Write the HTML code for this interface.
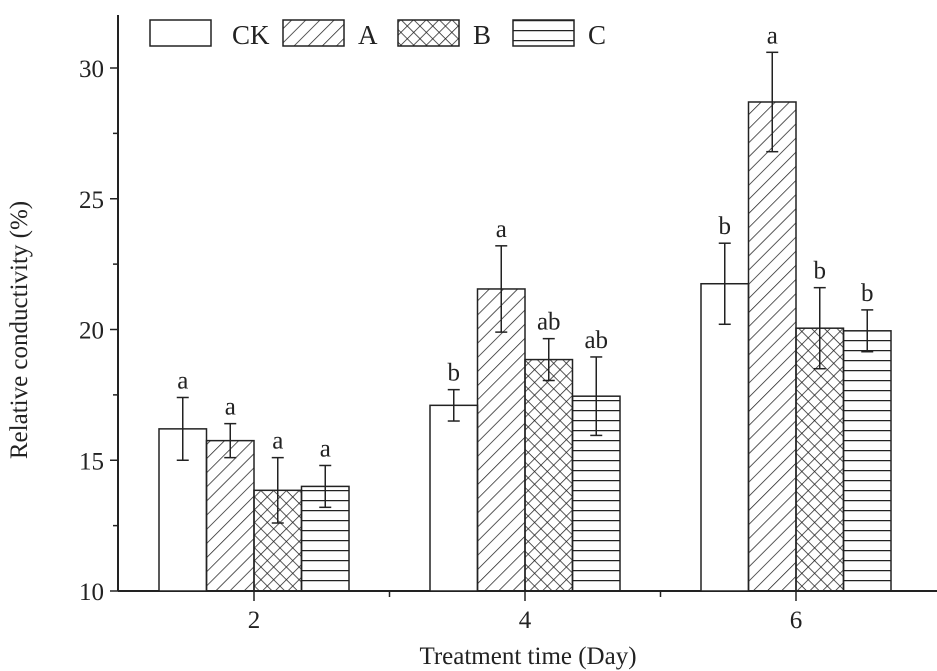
<!DOCTYPE html>
<html><head><meta charset="utf-8"><style>
body{margin:0;background:#fff}
svg{display:block;font-family:"Liberation Serif",serif}
</style></head><body>
<svg id="chart" width="937" height="671" viewBox="0 0 937 671" xmlns="http://www.w3.org/2000/svg">
<defs>
<pattern id="pA" patternUnits="userSpaceOnUse" width="10" height="10" patternTransform="rotate(45)"><line x1="0" y1="0" x2="0" y2="10" stroke="#222" stroke-width="1.5"/></pattern>
<pattern id="pB" patternUnits="userSpaceOnUse" width="9" height="9" patternTransform="rotate(45)"><line x1="0" y1="0" x2="0" y2="9" stroke="#222" stroke-width="1.5"/><line x1="0" y1="0" x2="9" y2="0" stroke="#222" stroke-width="1.5"/></pattern>
<pattern id="pC" patternUnits="userSpaceOnUse" width="10" height="10"><line x1="0" y1="0.5" x2="10" y2="0.5" stroke="#222" stroke-width="1.5"/></pattern>
</defs>
<g id="axes"></g><g id="bars"></g><g id="legend"></g>
</svg>
<script>
const days = ["2","4","6"];
const seriesNames = ["CK","A","B","C"];
const ckVals = [16.2, 17.1, 21.75];
const aVals = [15.75, 21.55, 28.7];
const bVals = [13.85, 18.85, 20.05];
const cVals = [14.0, 17.45, 19.95];
const ckErr = [1.2, 0.6, 1.55];
const aErr = [0.65, 1.65, 1.9];
const bErr = [1.25, 0.8, 1.55];
const cErr = [0.8, 1.5, 0.8];
const ckLetters = ["a","b","b"];
const aLetters = ["a","a","a"];
const bLetters = ["a","ab","b"];
const cLetters = ["a","ab","b"];
const yTicks = [10,15,20,25,30];

const NS="http://www.w3.org/2000/svg";
const svg=document.getElementById('chart');
const axes=document.getElementById('axes'), barsG=document.getElementById('bars'), leg=document.getElementById('legend');
const y0=591, pxPerUnit=26.15, yMin=10;
const yS=v=>y0-(v-yMin)*pxPerUnit;
const xS=i=>254+i*271;
const bw=47.5;
function mk(tag,attrs,parent,txt){const e=document.createElementNS(NS,tag);for(const k in attrs)e.setAttribute(k,attrs[k]);if(txt!==undefined)e.textContent=txt;parent.appendChild(e);return e;}

let e=mk('line',{x1:118,y1:15,x2:118,y2:591,stroke:'#222','stroke-width':2},axes);

e=mk('line',{x1:118,y1:591,x2:937,y2:591,stroke:'#222','stroke-width':2},axes);

yTicks.forEach(t=>{
  const y=yS(t);
  mk('line',{x1:110,y1:y,x2:118,y2:y,stroke:'#222','stroke-width':1.5},axes);
  const tx=mk('text',{x:104,y:y+9,'text-anchor':'end','font-size':25,fill:'#222'},axes,t);
  
  
});
for(let t=12.5;t<30;t+=5){const y=yS(t);mk('line',{x1:113,y1:y,x2:118,y2:y,stroke:'#222','stroke-width':1.5},axes);}
days.forEach((d,i)=>{
  const x=xS(i);
  mk('line',{x1:x,y1:591,x2:x,y2:601,stroke:'#222','stroke-width':1.5},axes);
  const tx=mk('text',{x:x,y:628,'text-anchor':'middle','font-size':25,fill:'#222'},axes,d);
  
  
});
[389.5,660.5].forEach(x=>mk('line',{x1:x,y1:591,x2:x,y2:597,stroke:'#222','stroke-width':1.5},axes));
e=mk('text',{x:528,y:664,'text-anchor':'middle','font-size':25,fill:'#222'},axes,'Treatment time (Day)');

e=mk('text',{x:0,y:0,'text-anchor':'middle','font-size':25,fill:'#222',transform:'translate(27,330) rotate(-90)'},axes,'Relative conductivity (%)');


const vals=[ckVals,aVals,bVals,cVals], errs=[ckErr,aErr,bErr,cErr], lets=[ckLetters,aLetters,bLetters,cLetters];
const fills=['#fff','url(#pA)','url(#pB)','url(#pC)'];
days.forEach((d,i)=>{
  seriesNames.forEach((s,j)=>{
    const v=vals[j][i], x=xS(i)-2*bw+j*bw, y=yS(v);
    const r=mk('rect',{x:x,y:y,width:bw,height:y0-y,fill:fills[j],stroke:'#222','stroke-width':1.5},barsG);
    
    
    const cx=x+bw/2, hi=yS(v+errs[j][i]), lo=yS(v-errs[j][i]);
    const g=mk('g',{stroke:'#222','stroke-width':1.5},barsG);
    
    
    mk('line',{x1:cx,y1:hi,x2:cx,y2:lo},g);
    mk('line',{x1:cx-6,y1:hi,x2:cx+6,y2:hi},g);
    mk('line',{x1:cx-6,y1:lo,x2:cx+6,y2:lo},g);
    const t=mk('text',{x:cx,y:hi-9,'text-anchor':'middle','font-size':25,fill:'#222'},barsG,lets[j][i]);
    
    
  });
});

const legX=[150,283,398,513], labX=[232,358,473,588];
seriesNames.forEach((s,j)=>{
  const g=mk('g',{},leg);
  
  
  mk('rect',{x:legX[j],y:20,width:61,height:26,fill:fills[j],stroke:'#222','stroke-width':1.5},g);
  mk('text',{x:labX[j],y:44,'font-size':27,fill:'#222'},g,s);
});
</script>
</body></html>
